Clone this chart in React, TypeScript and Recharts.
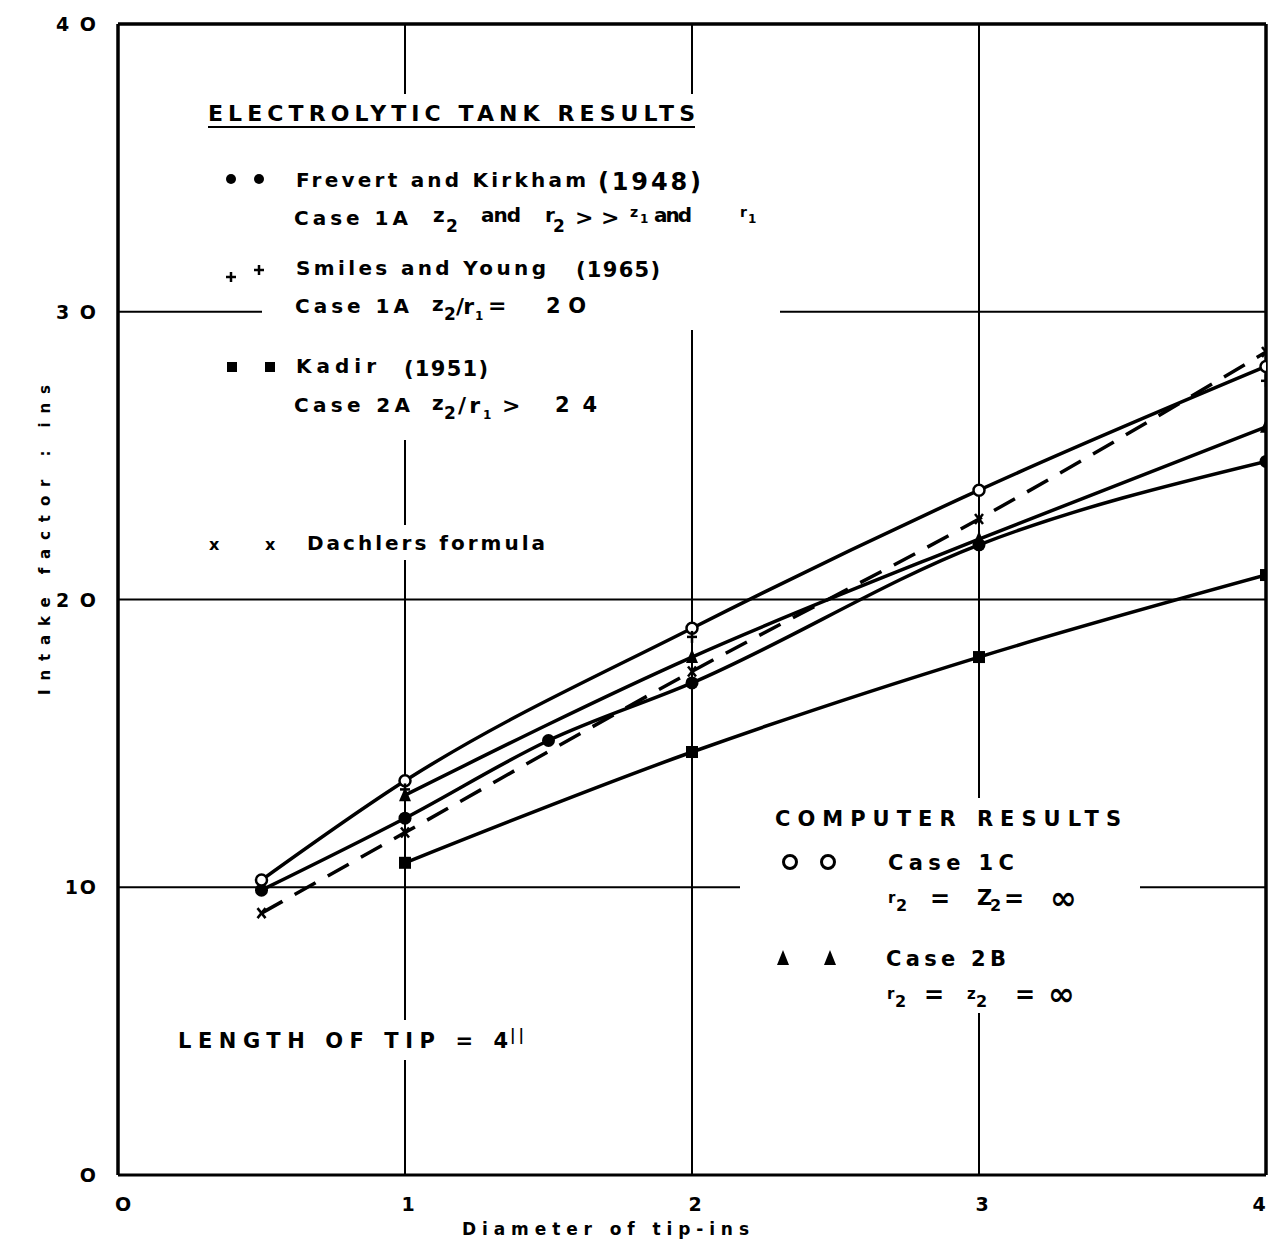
import React from 'react';
import { ComposedChart, Line, XAxis, YAxis, ReferenceLine } from 'recharts';

// diameter of tip (ins)
const diameters = [0.5, 1, 1.5, 2, 3, 4];
// computer results
const case1C = [10.25, 13.7, null, 19.0, 23.8, 28.1];
const case2B = [null, 13.2, null, 18.0, 22.1, 26.0];
// electrolytic tank results
const frevert = [9.9, 12.4, 15.1, 17.1, 21.9, 24.8];
const smiles = [null, 13.4, null, 18.7, null, 27.6];
const kadir = [null, 10.85, null, 14.7, 18.0, 20.85];
const dachler = [9.1, 11.9, null, 17.5, 22.8, 28.6];

const xTicks = [0, 1, 2, 3, 4];
const yTicks = [0, 10, 20, 30, 40];
const xTickLabels = ['O', '1', '2', '3', '4'];
const yTickLabels = ['O', '1O', '2 O', '3 O', '4 O'];
const gridX = [1, 2, 3];
const gridY = [10, 20, 30];

const rows = diameters.map((d, i) => ({
    d,
    case1C: case1C[i],
    case2B: case2B[i],
    frevert: frevert[i],
    smiles: smiles[i],
    kadir: kadir[i],
    dachler: dachler[i],
}));

const FONT = "'DejaVu Sans', sans-serif";

const openCircle = (p: any) => {
    if (p.cy == null || p.value == null) return <g key={p.index} />;
    return <circle key={p.index} cx={p.cx} cy={p.cy} r={5.5} fill="#fff" stroke="#000" strokeWidth={2.5} />;
};
const filledCircle = (p: any) => {
    if (p.cy == null || p.value == null) return <g key={p.index} />;
    return <circle key={p.index} cx={p.cx} cy={p.cy} r={6.5} fill="#000" />;
};
const triangle = (p: any) => {
    if (p.cy == null || p.value == null) return <g key={p.index} />;
    const { cx, cy } = p;
    return <polygon key={p.index} points={`${cx},${cy - 8} ${cx - 6},${cy + 6} ${cx + 6},${cy + 6}`} fill="#000" />;
};
const square = (p: any) => {
    if (p.cy == null || p.value == null) return <g key={p.index} />;
    return <rect key={p.index} x={p.cx - 6} y={p.cy - 6} width={12} height={12} fill="#000" />;
};
const plus = (p: any) => {
    if (p.cy == null || p.value == null) return <g key={p.index} />;
    const { cx, cy } = p;
    return (
        <g key={p.index} stroke="#000" strokeWidth={2.5}>
            <line x1={cx - 5} y1={cy} x2={cx + 5} y2={cy} />
            <line x1={cx} y1={cy - 6} x2={cx} y2={cy + 6} />
        </g>
    );
};
const cross = (p: any) => {
    if (p.cy == null || p.value == null) return <g key={p.index} />;
    const { cx, cy } = p;
    return (
        <g key={p.index} stroke="#000" strokeWidth={2.5}>
            <line x1={cx - 4} y1={cy - 5} x2={cx + 4} y2={cy + 5} />
            <line x1={cx + 4} y1={cy - 5} x2={cx - 4} y2={cy + 5} />
        </g>
    );
};

const XTick = (p: any) => {
    const i = xTicks.indexOf(p.payload.value);
    const dx = i === 0 ? 5 : i === 4 ? -6 : 3;
    return (
        <text x={p.x + dx} y={1211} textAnchor="middle" fontFamily={FONT} fontWeight={700} fontSize={19}>
            {xTickLabels[i]}
        </text>
    );
};
const YTick = (p: any) => {
    const i = yTicks.indexOf(p.payload.value);
    return (
        <text x={98} y={p.y + 7} textAnchor="end" fontFamily={FONT} fontWeight={700} fontSize={19} letterSpacing={2}>
            {yTickLabels[i]}
        </text>
    );
};

// text helper for the overlay
const T = ({ x, y, w, s = 20, children }: any) => (
    <text x={x} y={y} fontSize={s} textLength={w} lengthAdjust="spacing" fontFamily={FONT} fontWeight={700}>
        {children}
    </text>
);
const Mask = ({ x, y, w, h }: any) => <rect x={x} y={y} width={w} height={h} fill="#fff" />;

const Overlay = () => (
    <svg width={1269} height={1246} style={{ position: 'absolute', left: 0, top: 0, pointerEvents: 'none' }}>
        {/* white patches where the grid is broken by the notes */}
        <Mask x={200} y={94} w={500} h={56} />
        <Mask x={215} y={150} w={555} h={150} />
        <Mask x={262} y={300} w={518} h={30} />
        <Mask x={215} y={330} w={390} h={110} />
        <Mask x={200} y={525} w={360} h={35} />
        <Mask x={740} y={798} w={400} h={215} />
        <Mask x={170} y={1020} w={360} h={40} />

        <T x={208} y={121} w={487} s={22}>ELECTROLYTIC TANK RESULTS</T>
        <line x1={208} y1={127} x2={695} y2={127} stroke="#000" strokeWidth={2} />

        <circle cx={231} cy={179} r={5} fill="#000" />
        <circle cx={259} cy={179} r={5} fill="#000" />
        <T x={296} y={187} w={290}>Frevert and Kirkham</T>
        <T x={598} y={190} w={103} s={24}>(1948)</T>
        <T x={294} y={225} w={114}>Case 1A</T>
        <T x={433} y={222} w={9}>z</T>
        <T x={446} y={232} w={10} s={17}>2</T>
        <T x={481} y={222} w={40}>and</T>
        <T x={545} y={222} w={7}>r</T>
        <T x={553} y={232} w={10} s={17}>2</T>
        <T x={575} y={225} s={22}>{'>'}</T>
        <T x={601} y={225} s={22}>{'>'}</T>
        <T x={630} y={217} w={8} s={14}>z</T>
        <T x={640} y={223} w={5} s={12}>1</T>
        <T x={654} y={222} w={38}>and</T>
        <T x={740} y={217} w={7} s={14}>r</T>
        <T x={748} y={223} w={5} s={12}>1</T>

        <g stroke="#000" strokeWidth={2.5}>
            <line x1={226} y1={277} x2={236} y2={277} />
            <line x1={231} y1={272} x2={231} y2={282} />
            <line x1={254} y1={270} x2={264} y2={270} />
            <line x1={259} y1={265} x2={259} y2={275} />
        </g>
        <T x={296} y={275} w={250}>Smiles and Young</T>
        <T x={576} y={277} w={84} s={21}>(1965)</T>
        <T x={295} y={313} w={114}>Case 1A</T>
        <T x={432} y={311} w={9}>z</T>
        <T x={444} y={320} w={10} s={17}>2</T>
        <T x={456} y={314} w={18} s={22}>/r</T>
        <T x={475} y={320} w={5} s={12}>1</T>
        <T x={488} y={313} s={22}>=</T>
        <T x={546} y={313} w={40} s={21}>2O</T>

        <rect x={227} y={362} width={10} height={10} fill="#000" />
        <rect x={265} y={362} width={10} height={10} fill="#000" />
        <T x={296} y={373} w={80}>Kadir</T>
        <T x={404} y={376} w={84} s={21}>(1951)</T>
        <T x={294} y={412} w={116}>Case 2A</T>
        <T x={432} y={410} w={9}>z</T>
        <T x={444} y={419} w={10} s={17}>2</T>
        <T x={458} y={413} w={22} s={22}>/r</T>
        <T x={483} y={419} w={5} s={12}>1</T>
        <T x={502} y={413} s={22}>{'>'}</T>
        <T x={555} y={412} w={42} s={21}>24</T>

        <T x={209} y={550} w={9} s={16}>x</T>
        <T x={265} y={550} w={9} s={16}>x</T>
        <T x={307} y={550} w={238}>Dachlers formula</T>

        <T x={775} y={826} w={346} s={21}>COMPUTER RESULTS</T>
        <circle cx={790} cy={862} r={6.5} fill="#fff" stroke="#000" strokeWidth={3} />
        <circle cx={828} cy={862} r={6.5} fill="#fff" stroke="#000" strokeWidth={3} />
        <T x={888} y={870} w={126} s={21}>Case 1C</T>
        <T x={888} y={903} w={8} s={15}>r</T>
        <T x={896} y={911} w={10} s={16}>2</T>
        <T x={930} y={907} s={24}>=</T>
        <T x={977} y={905} w={12} s={21}>Z</T>
        <T x={990} y={911} w={10} s={16}>2</T>
        <T x={1004} y={907} s={24}>=</T>
        <T x={1050} y={909} w={44} s={32}>∞</T>

        <polygon points="783,950 777,965 789,965" fill="#000" />
        <polygon points="830,950 824,965 836,965" fill="#000" />
        <T x={886} y={966} w={120} s={21}>Case 2B</T>
        <T x={887} y={999} w={8} s={15}>r</T>
        <T x={895} y={1007} w={10} s={16}>2</T>
        <T x={924} y={1003} s={24}>=</T>
        <T x={967} y={999} w={9} s={15}>z</T>
        <T x={976} y={1007} w={10} s={16}>2</T>
        <T x={1015} y={1003} s={24}>=</T>
        <T x={1048} y={1005} w={44} s={32}>∞</T>

        <T x={178} y={1048} w={330} s={21}>{'LENGTH OF TIP = 4'}</T>
        <T x={510} y={1040} w={14} s={15}>{'||'}</T>

        <text
            x={50}
            y={540}
            transform="rotate(-90 50 540)"
            textAnchor="middle"
            fontSize={15}
            fontFamily={FONT}
            fontWeight={700}
            textLength={310}
            lengthAdjust="spacing"
        >
            Intake factor : ins
        </text>
        <T x={462} y={1235} w={287} s={17}>Diameter of tip-ins</T>
    </svg>
);

export default function App() {
    return (
        <div style={{ position: 'absolute', left: 0, top: 0, width: 1269, height: 1246, background: '#fff' }}>
            <ComposedChart width={1269} height={1246} data={rows} margin={{ top: 24, right: 3, left: 0, bottom: 0 }}>
                <XAxis
                    dataKey="d"
                    type="number"
                    domain={[0, 4]}
                    ticks={xTicks}
                    height={71}
                    tickLine={false}
                    axisLine={{ stroke: '#000', strokeWidth: 3 }}
                    tick={<XTick />}
                    allowDataOverflow
                />
                <YAxis
                    type="number"
                    domain={[0, 40]}
                    ticks={yTicks}
                    width={118}
                    tickLine={false}
                    axisLine={{ stroke: '#000', strokeWidth: 3.5 }}
                    tick={<YTick />}
                    allowDataOverflow
                />
                {gridX.map((g) => (
                    <ReferenceLine key={'gx' + g} x={g} stroke="#000" strokeWidth={2} />
                ))}
                {gridY.map((g) => (
                    <ReferenceLine key={'gy' + g} y={g} stroke="#000" strokeWidth={2} />
                ))}
                <ReferenceLine x={4} stroke="#000" strokeWidth={3.5} />
                <ReferenceLine y={40} stroke="#000" strokeWidth={3.5} />

                <Line dataKey="kadir" type="monotone" stroke="#000" strokeWidth={3.5} dot={square} connectNulls isAnimationActive={false} />
                <Line dataKey="dachler" type="monotone" stroke="#000" strokeWidth={3.5} strokeDasharray="24 14" dot={cross} connectNulls isAnimationActive={false} />
                <Line dataKey="frevert" type="monotone" stroke="#000" strokeWidth={3.5} dot={filledCircle} connectNulls isAnimationActive={false} />
                <Line dataKey="case2B" type="monotone" stroke="#000" strokeWidth={3.5} dot={triangle} connectNulls isAnimationActive={false} />
                <Line dataKey="case1C" type="monotone" stroke="#000" strokeWidth={3.5} dot={openCircle} connectNulls isAnimationActive={false} />
                <Line dataKey="smiles" stroke="none" dot={plus} connectNulls={false} isAnimationActive={false} />
            </ComposedChart>
            <Overlay />
        </div>
    );
}
